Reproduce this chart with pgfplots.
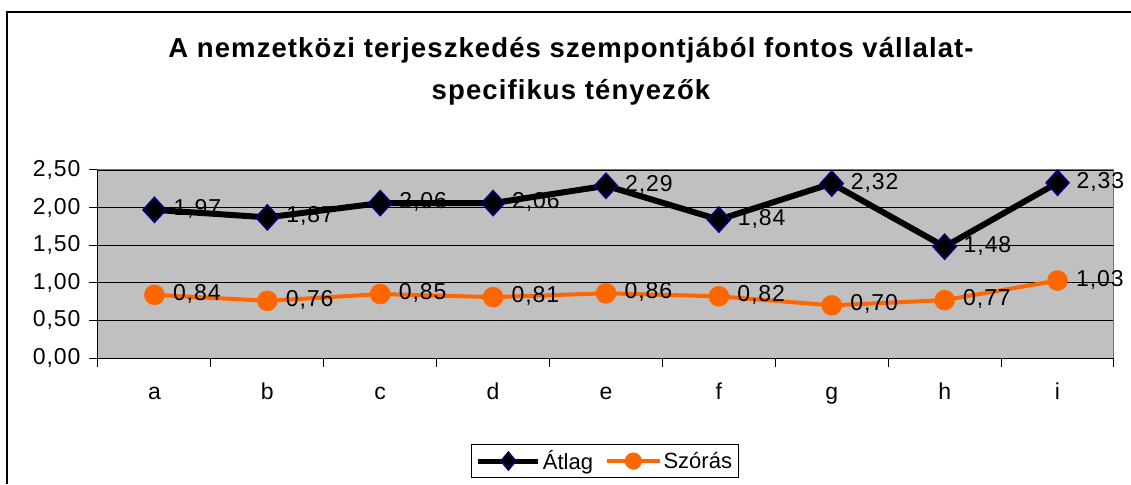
\documentclass[border=0pt]{standalone}
\usepackage{pgfplots}
\pgfplotsset{compat=1.18}
\usepackage{fontspec}
\setmainfont{Liberation Sans}
\newfontfamily\titlefont[LetterSpace=4]{Liberation Sans}
\newfontfamily\numfont[LetterSpace=4]{Liberation Sans}
\definecolor{plotgray}{RGB}{192,192,192}
\definecolor{orng}{RGB}{255,102,0}
\definecolor{navyb}{RGB}{0,0,128}
\begin{document}
\begin{tikzpicture}[x=1pt,y=1pt]
\begin{axis}[
  scale only axis, width=1016pt, height=188pt,
  xmin=0.5, xmax=9.5, ymin=0, ymax=2.5,
  axis background/.style={fill=plotgray},
  axis line style={draw=gray!90!black, line width=1pt},
  xtick={1,...,9},
  xticklabels={a,b,c,d,e,f,g,h,i},
  major x tick style={draw=none},
  minor xtick={0.5,1.5,...,9.5},
  minor x tick style={draw=black, line width=1pt},
  minor tick length=9pt,
  ytick={0,0.5,...,2.5},
  major y tick style={draw=black, line width=1pt},
  major tick length=9pt,
  tick align=outside,
  tick pos=left,
  ymajorgrids,
  grid style={black, line width=0.9pt},
  /pgf/number format/assume math mode=true,
  yticklabel style={xshift=-5pt, /pgf/number format/fixed, /pgf/number format/fixed zerofill, /pgf/number format/precision=2, /pgf/number format/use comma},
  tick label style={font=\numfont\fontsize{23}{26}\selectfont},
  xticklabel style={anchor=base, yshift=-32pt},
  nodes near coords,
  every node near coord/.append style={text=black, font=\numfont\fontsize{23}{26}\selectfont, anchor=west, xshift=15pt, yshift=1pt,
    /pgf/number format/fixed, /pgf/number format/fixed zerofill, /pgf/number format/precision=2, /pgf/number format/use comma},
  clip=false,
  legend style={at={(0.499,-0.548)}, anchor=center, draw=black, line width=1pt, fill=white,
    font=\fontsize{22}{26}\selectfont, legend columns=-1, inner sep=4pt,
    /tikz/every even column/.append style={column sep=10pt}},
]
\addplot[black, line width=6pt, mark=diamond*, mark size=12.5pt, mark options={xscale=1.22, fill=black, draw=navyb, line width=1.5pt},
  legend image code/.code={\draw[black, line width=5pt] (0pt,0pt) -- (60pt,0pt); \draw[fill=black, draw=navyb, line width=1.5pt] (30pt,-9pt) -- (37.5pt,0pt) -- (30pt,9pt) -- (22.5pt,0pt) -- cycle;}]
  coordinates {(1,1.97) (2,1.87) (3,2.06) (4,2.06) (5,2.29) (6,1.84) (7,2.32) (8,1.48) (9,2.33)};
\addlegendentry{Átlag}
\addplot[orng, line width=4pt, mark=*, mark size=10pt, mark options={fill=orng, draw=orng, line width=0.5pt},
  legend image code/.code={\draw[orng, line width=3.5pt] (0pt,0pt) -- (53pt,0pt); \fill[orng] (26.5pt,0pt) circle (6.5pt);}]
  coordinates {(1,0.84) (2,0.76) (3,0.85) (4,0.81) (5,0.86) (6,0.82) (7,0.70) (8,0.77) (9,1.03)};
\addlegendentry{Szórás}
\draw[black, line width=1pt] (axis cs:0.5,2.5) -- (axis cs:0.5,0) -- (axis cs:9.5,0);
\coordinate (O) at (axis cs:0.5,0);
\end{axis}
\pgfresetboundingbox
\begin{scope}[shift={(O)}]
\useasboundingbox (-98,358) rectangle (1033,-126);
\draw[line width=2pt] (-91,-126) -- (-91,346) -- (1033,346);
\node[font=\titlefont\fontsize{27.5}{42}\selectfont\bfseries, align=center] at (473,287) {A nemzetközi terjeszkedés szempontjából fontos vállalat-\\specifikus tényezők};
\end{scope}
\end{tikzpicture}
\end{document}
